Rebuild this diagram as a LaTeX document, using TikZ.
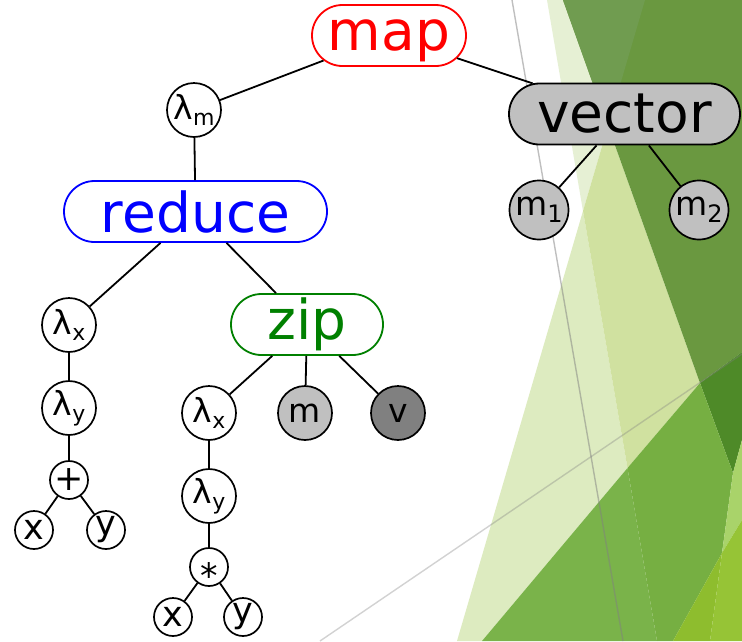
\documentclass[tikz,border=0pt]{standalone}
\usepackage{fontspec}
\setmainfont{DejaVu Sans}
\usetikzlibrary{shapes.misc}

% facet background greens
\definecolor{facetPale}{HTML}{DDEBC0}
\definecolor{facetMist}{HTML}{E6F0D4}
\definecolor{facetSage}{HTML}{D0E1A0}
\definecolor{facetOlive}{HTML}{6A9840}
\definecolor{facetOliveLt}{HTML}{709C50}
\definecolor{facetForest}{HTML}{4E8A28}
\definecolor{facetGrass}{HTML}{7AB34A}
\definecolor{facetGrassDk}{HTML}{76AF42}
\definecolor{facetSpring}{HTML}{A9D36A}
\definecolor{facetLime}{HTML}{8EBD2E}
\definecolor{facetLimeLt}{HTML}{96C436}
% tree colours
\definecolor{boxgray}{HTML}{C0C0C0}
\definecolor{deepgray}{HTML}{808080}
\definecolor{zipgreen}{HTML}{008000}

\newcommand\subtxt[1]{\raisebox{-6pt}{\fontsize{22}{22}\selectfont #1}}
\newcommand\subnum[1]{\raisebox{-7pt}{\fontsize{24}{24}\selectfont #1}}

\begin{document}
\begin{tikzpicture}[x=1pt,y=-1pt,
  wordbox/.style={rounded rectangle, draw, line width=1.8pt, fill=white,
    minimum height=61pt, inner sep=0pt, font=\fontsize{55}{55}\selectfont},
  lam/.style={circle, draw, line width=1.7pt, fill=white, minimum size=54pt,
    inner sep=0pt, font=\fontsize{33}{33}\selectfont},
  elem/.style={lam, fill=boxgray, minimum size=59pt},
  leaf/.style={circle, draw, line width=1.7pt, fill=white, minimum size=38pt,
    inner sep=0pt, font=\fontsize{35}{35}\selectfont},
  link/.style={line width=1.8pt},
  guide/.style={line width=1.4pt, draw=gray, draw opacity=0.5},
  guidefaint/.style={line width=1.4pt, draw=gray, draw opacity=0.35}
]
\useasboundingbox (0,0) rectangle (742,641);
\fill[white] (0,0) rectangle (742,641);

% background facets
\fill[facetPale] (583,211) -- (457,641) -- (482,641) -- (627.5,468) -- cycle;
\fill[facetMist] (547,0) -- (563,0) -- (608,126) -- (583,211) -- cycle;
\fill[facetSage] (608,126) -- (583,211) -- (627.5,468) -- (700,383) -- cycle;
\fill[facetOlive] (563,0) -- (742,0) -- (742,352) -- (700,383) -- cycle;
\fill[facetOliveLt] (563,0) -- (645,0) -- (608,126) -- cycle;
\fill[facetForest] (700,383) -- (742,352) -- (742,440) -- (733,473) -- cycle;
\fill[facetGrass] (482,641) -- (627.5,468) -- (657,641) -- cycle;
\fill[facetGrassDk] (627.5,468) -- (700,383) -- (733,473) -- (722,553)
  -- (673,641) -- (657,641) -- cycle;
\fill[facetSpring] (733,473) -- (742,440) -- (742,520) -- (722,553) -- cycle;
\fill[facetLime] (722,553) -- (710,641) -- (673,641) -- cycle;
\fill[facetLimeLt] (722,553) -- (742,520) -- (742,641) -- (710,641) -- cycle;

% thin guide lines of the facets
\coordinate (gA) at (512,0);
\coordinate (gB) at (623,641);
\coordinate (gC) at (320,641);
\coordinate (gD) at (742,354);
\draw[guide] (gA) -- (gB);
\draw[guidefaint] (gC) -- (gD);

% word nodes
\node[wordbox, draw=red, text=red, minimum width=154pt] (map) at (389,35.5) {\vphantom{d}map};
\node[wordbox, draw=blue, text=blue, minimum width=263pt] (reduce) at (195.5,211.5) {reduce};
\node[wordbox, fill=boxgray, minimum width=231pt] (vector) at (624.5,114) {vector};
\node[wordbox, draw=zipgreen, text=zipgreen, minimum width=152pt] (zip) at (307,324.5) {zip};

% circle nodes
\node[lam] (lm) at (194,110) {λ\subtxt{m}};
\node[elem] (m1) at (539,210) {m\subnum{1}};
\node[elem] (m2) at (699,210) {m\subnum{2}};

\node[lam] (lxa) at (69,325) {λ\subtxt{x}};
\node[lam] (lya) at (69,408) {λ\subtxt{y}};
\node[leaf] (plus) at (69,480) {+};
\node[leaf] (xa) at (34,530) {x};
\node[leaf] (ya) at (106,530) {y};

\node[lam] (lxb) at (209,413) {λ\subtxt{x}};
\node[lam] (lyb) at (209,496) {λ\subtxt{y}};
\node[leaf] (times) at (209,567) {\smash{\raisebox{-21.5pt}{*}}};
\node[leaf] (xb) at (173,617) {x};
\node[leaf] (yb) at (243,617) {y};

\node[lam, fill=boxgray] (mz) at (305,413) {m};
\node[lam, fill=deepgray] (vz) at (398,413) {v};

% connectors
\draw[link] (map) -- (lm);
\draw[link] (map) -- (vector);
\draw[link] (lm) -- (reduce);
\draw[link] (vector) -- (m1);
\draw[link] (vector) -- (m2);
\draw[link] (reduce) -- (lxa);
\draw[link] (reduce) -- (zip);
\draw[link] (lxa) -- (lya);
\draw[link] (lya) -- (plus);
\draw[link] (plus) -- (xa);
\draw[link] (plus) -- (ya);
\draw[link] (zip) -- (lxb);
\draw[link] (zip) -- (mz);
\draw[link] (zip) -- (vz);
\draw[link] (lxb) -- (lyb);
\draw[link] (lyb) -- (times);
\draw[link] (times) -- (xb);
\draw[link] (times) -- (yb);
\end{tikzpicture}
\end{document}
